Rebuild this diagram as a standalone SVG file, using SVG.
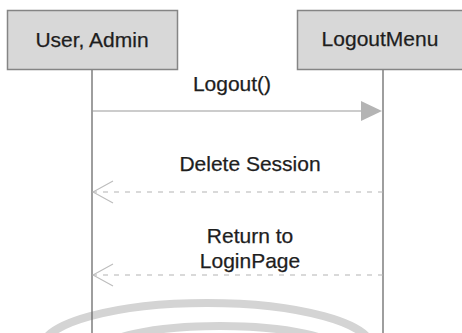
<svg xmlns="http://www.w3.org/2000/svg" width="462" height="333" viewBox="0 0 462 333">
  <defs>
    <style>
      .box { fill: #d8d8d8; stroke: #858585; stroke-width: 1.5; }
      .lbl { font-family: "Liberation Sans", Arial, sans-serif; font-size: 21px; fill: #1e1e1e; stroke: #1e1e1e; stroke-width: 0.25; text-anchor: middle; }
      .life { stroke: #6a6a6a; stroke-width: 1.3; fill: none; }
      .call { stroke: #9a9a9a; stroke-width: 1.2; fill: none; }
      .ret { stroke: #b4b4b4; stroke-width: 1.1; stroke-dasharray: 5 6; fill: none; }
      .open { stroke: #bdbdbd; stroke-width: 1.1; fill: none; }
      .mark { stroke: #d4d4d4; stroke-width: 8; fill: none; }
    </style>
  </defs>
  <rect width="462" height="333" fill="#ffffff"/>

  <!-- background watermark arcs -->
  <g id="watermark">
    <path class="mark" d="M 42 348 A 165 45 0 0 1 372 348"/>
    <path class="mark" d="M 100 352 A 120 26 0 0 1 340 352"/>
  </g>

  <!-- lifelines -->
  <g id="lifelines">
    <line class="life" x1="92" y1="70" x2="92" y2="333"/>
    <line class="life" x1="383" y1="70" x2="383" y2="333"/>
  </g>

  <g id="user-admin">
    <rect class="box" x="7.5" y="10.5" width="170" height="59"/>
    <text class="lbl" x="92" y="47">User, Admin</text>
  </g>

  <g id="logout-menu">
    <rect class="box" x="297.5" y="10.5" width="172" height="59"/>
    <text class="lbl" x="380" y="46">LogoutMenu</text>
  </g>

  <!-- messages -->
  <g id="connectors">
    <g id="msg-logout">
      <line class="call" x1="92" y1="111" x2="362" y2="111"/>
      <polygon points="361,101 382,111 361,121" fill="#b4b4b4"/>
      <text class="lbl" x="232" y="91">Logout()</text>
    </g>
    <g id="msg-delete-session">
      <line class="ret" x1="383" y1="192" x2="93" y2="192"/>
      <polyline class="open" points="113,181 93,192 113,203"/>
      <text class="lbl" x="250" y="171">Delete Session</text>
    </g>
    <g id="msg-return-login">
      <line class="ret" x1="383" y1="275" x2="93" y2="275"/>
      <polyline class="open" points="113,264 93,275 113,286"/>
      <text class="lbl" x="250" y="243">Return to</text>
      <text class="lbl" x="250" y="268">LoginPage</text>
    </g>
  </g>
</svg>
